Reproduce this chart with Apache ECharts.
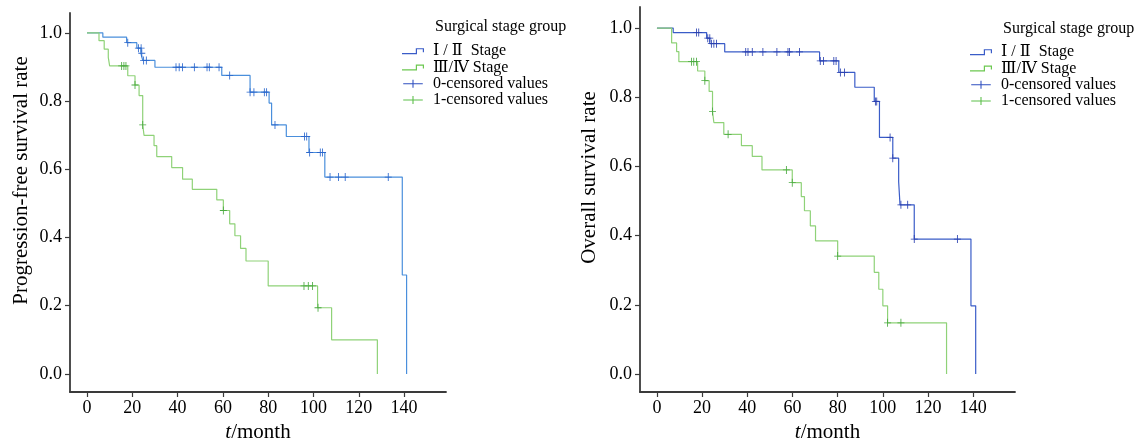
<!DOCTYPE html>
<html>
<head>
<meta charset="utf-8">
<script src="https://cdn.jsdelivr.net/npm/echarts@6/dist/echarts.min.js"></script>
<style>
html,body{margin:0;padding:0;background:#fff;}
#chart{width:1137px;height:439px;}
</style>
</head>
<body>
<div id="chart"></div>
<script>
// ---------- Data ----------
const xTickValues = [0, 20, 40, 60, 80, 100, 120, 140];
const yTickValues = [0, 0.2, 0.4, 0.6, 0.8, 1.0];

const groupNames = ['Ⅰ / Ⅱ  Stage', 'Ⅲ/Ⅳ Stage', '0-censored values', '1-censored values'];

// Progression-free survival, stage I/II : [month, survival rate]
const pfsStage12 = [[0,1.0],[7,0.987],[17.5,0.971],[22,0.955],[23.8,0.94],[24.6,0.919],[30,0.899],[59.5,0.875],[72,0.826],[80.4,0.794],[81.5,0.73],[88,0.696],[98,0.649],[105,0.577],[139.2,0.29],[141.1,0]];
const pfsStage12Censored = [[18,0.971],[22.7,0.955],[23.9,0.955],[24.2,0.94],[25,0.919],[26.2,0.919],[39.3,0.899],[40.7,0.899],[42.2,0.899],[47.4,0.899],[53,0.899],[54,0.899],[58.3,0.899],[63,0.875],[72,0.826],[73.7,0.826],[78.3,0.826],[79.3,0.826],[83,0.73],[96,0.696],[97,0.696],[98.3,0.649],[103,0.649],[104,0.649],[107.3,0.577],[111,0.577],[114,0.577],[133,0.577]];

// Progression-free survival, stage III/IV
const pfsStage34 = [[0,1.0],[5.3,0.977],[7.6,0.952],[9.4,0.928],[10,0.903],[18,0.874],[21.2,0.847],[23,0.816],[24.6,0.73],[25.2,0.699],[29.6,0.669],[30.8,0.637],[37.4,0.605],[42.2,0.571],[46.5,0.541],[57.3,0.51],[60.2,0.479],[63,0.44],[65.3,0.405],[67.8,0.368],[70.2,0.331],[80,0.258],[101.8,0.194],[108,0.1],[128.2,0]];
const pfsStage34Censored = [[15.3,0.903],[16.3,0.903],[17.2,0.903],[21.2,0.847],[24.6,0.73],[60.2,0.479],[95.8,0.258],[97.7,0.258],[99.6,0.258],[102,0.194]];

// Overall survival, stage I/II
const osStage12 = [[0,1.0],[7.2,0.987],[22,0.971],[23.4,0.955],[30,0.931],[72,0.905],[80.5,0.872],[87.6,0.829],[96.2,0.788],[98.5,0.684],[104.4,0.624],[107,0.556],[107.6,0.489],[113.9,0.39],[139,0.197],[141.1,0]];
const osStage12Censored = [[17.5,0.987],[18.5,0.987],[22.5,0.971],[23.4,0.971],[24.1,0.955],[25.2,0.955],[26.4,0.955],[39.3,0.931],[40.3,0.931],[42.2,0.931],[46.9,0.931],[53.1,0.931],[58,0.931],[58.7,0.931],[63.1,0.931],[72.3,0.905],[73.7,0.905],[78.3,0.905],[79.3,0.905],[81.2,0.872],[83,0.872],[96.7,0.788],[97.3,0.788],[103.2,0.684],[104.4,0.624],[108,0.489],[111,0.489],[113.9,0.39],[133,0.39]];

// Overall survival, stage III/IV
const osStage34 = [[0,1.0],[6.5,0.957],[8.7,0.932],[9.7,0.903],[18,0.876],[21.2,0.848],[23.1,0.817],[24.6,0.759],[25.2,0.727],[29.6,0.693],[37.4,0.66],[42.2,0.629],[46.5,0.59],[59.9,0.553],[63.9,0.513],[65.3,0.472],[67.9,0.428],[70.2,0.385],[80,0.341],[96.2,0.294],[98.2,0.245],[100,0.197],[102.1,0.148],[128.2,0]];
const osStage34Censored = [[15.3,0.903],[16.3,0.903],[17.5,0.903],[21.2,0.848],[24.6,0.759],[31.5,0.693],[57.3,0.59],[59.9,0.553],[80,0.341],[102.1,0.148],[108,0.148]];

// ---------- Styling ----------
const FONT = "'Liberation Serif', 'Times New Roman', 'DejaVu Serif', 'Noto Sans CJK SC', serif";
const AXIS_COLOR = '#3a3a3a';
const TEXT_COLOR = '#000';
const plusSymbol = 'path://M-0.12,-1 L0.12,-1 L0.12,-0.1 L1,-0.1 L1,0.1 L0.12,0.1 L0.12,1 L-0.12,1 L-0.12,0.1 L-1,0.1 L-1,-0.1 L-0.12,-0.1 Z';
const stepIcon = 'path://M0,4.8 L13.8,4.8 L13.8,0 L22,0 L22,4 L20.8,4 L20.8,1.2 L15,1.2 L15,6 L0,6 Z';
const censorIcon = 'path://M0,3.9 L10.4,3.9 L10.4,0 L11.6,0 L11.6,3.9 L22,3.9 L22,5.1 L11.6,5.1 L11.6,9 L10.4,9 L10.4,5.1 L0,5.1 Z';

const legendColors = ['#3a5cc8', '#6cc850', '#2f4fc0', '#5cbf4a'];

function makeXAxis(gridIndex) {
  return {
    type: 'value', gridIndex: gridIndex, min: -7.5, max: 158.5,
    name: '{i|t}/month', nameLocation: 'middle', nameGap: 27,
    nameTextStyle: { fontFamily: FONT, fontSize: 21, color: TEXT_COLOR,
      rich: { i: { fontFamily: FONT, fontSize: 21, fontStyle: 'italic', color: TEXT_COLOR } } },
    axisLine: { show: true, onZero: false, lineStyle: { color: AXIS_COLOR, width: 1.8 } },
    axisTick: { show: true, length: 5, lineStyle: { color: AXIS_COLOR, width: 1.2 }, customValues: xTickValues },
    axisLabel: { fontFamily: FONT, fontSize: 18, color: TEXT_COLOR, margin: 7, customValues: xTickValues },
    splitLine: { show: false }
  };
}
function makeYAxis(gridIndex, name, min, max, gap) {
  return {
    type: 'value', gridIndex: gridIndex, min: min, max: max,
    name: name, nameLocation: 'middle', nameGap: gap,
    nameTextStyle: { fontFamily: FONT, fontSize: 21, color: TEXT_COLOR, padding: [0, 0, 0, 44] },
    axisLine: { show: true, onZero: false, lineStyle: { color: AXIS_COLOR, width: 1.8 } },
    axisTick: { show: true, length: 5, lineStyle: { color: AXIS_COLOR, width: 1.2 }, customValues: yTickValues },
    axisLabel: { fontFamily: FONT, fontSize: 18, color: TEXT_COLOR, margin: 8, customValues: yTickValues,
      formatter: v => v.toFixed(1) },
    splitLine: { show: false }
  };
}
function makeLegend(left, top) {
  return {
    orient: 'vertical', left: left, top: top, itemGap: 0,
    itemWidth: 22, itemHeight: 8,
    textStyle: { fontFamily: FONT, fontSize: 16, color: TEXT_COLOR, lineHeight: 16.3, padding: [0, 0, 0, 4] },
    data: [
      { name: groupNames[0], icon: stepIcon, itemStyle: { color: legendColors[0], opacity: 1 } },
      { name: groupNames[1], icon: stepIcon, itemStyle: { color: legendColors[1], opacity: 1 } },
      { name: groupNames[2], icon: censorIcon, itemStyle: { color: legendColors[2], opacity: 1 } },
      { name: groupNames[3], icon: censorIcon, itemStyle: { color: legendColors[3], opacity: 1 } }
    ]
  };
}
function stepSeries(name, data, gi, color) {
  return { type: 'line', name: name, data: data, step: 'end', xAxisIndex: gi, yAxisIndex: gi,
    showSymbol: false, symbol: 'none', lineStyle: { color: color, width: 1.2 }, itemStyle: { color: color },
    animation: false, z: 2 };
}
function censorSeries(name, data, gi, color) {
  return { type: 'scatter', name: name, data: data, xAxisIndex: gi, yAxisIndex: gi,
    symbol: plusSymbol, symbolSize: [7, 8], itemStyle: { color: color, opacity: 1 }, animation: false, z: 3 };
}

const chart = echarts.init(document.getElementById('chart'), null, { renderer: 'canvas' });
chart.setOption({
  backgroundColor: '#fff',
  animation: false,
  title: [
    { text: 'Surgical stage group', left: 430, top: 14, textStyle: { fontFamily: FONT, fontSize: 16, fontWeight: 'normal', color: TEXT_COLOR } },
    { text: 'Surgical stage group', left: 998, top: 16, textStyle: { fontFamily: FONT, fontSize: 16, fontWeight: 'normal', color: TEXT_COLOR } }
  ],
  legend: [ makeLegend(397, 38), makeLegend(965, 39) ],
  grid: [
    { left: 70, top: 13, width: 376, height: 379, outerBoundsMode: 'none', containLabel: false },
    { left: 640, top: 7, width: 375, height: 385, outerBoundsMode: 'none', containLabel: false }
  ],
  xAxis: [ makeXAxis(0), makeXAxis(1) ],
  yAxis: [
    makeYAxis(0, 'Progression-free survival rate', -0.053, 1.058, 38),
    makeYAxis(1, 'Overall survival rate', -0.052, 1.061, 40)
  ],
  series: [
    stepSeries(groupNames[0], pfsStage12, 0, '#4a8fdc'),
    stepSeries(groupNames[1], pfsStage34, 0, '#8fd278'),
    censorSeries(groupNames[2], pfsStage12Censored, 0, '#2a66cc'),
    censorSeries(groupNames[3], pfsStage34Censored, 0, '#4aaa40'),
    stepSeries(groupNames[0], osStage12, 1, '#3a5cc8'),
    stepSeries(groupNames[1], osStage34, 1, '#8fd278'),
    censorSeries(groupNames[2], osStage12Censored, 1, '#2a40b0'),
    censorSeries(groupNames[3], osStage34Censored, 1, '#4aaa40')
  ]
});
</script>
</body>
</html>
